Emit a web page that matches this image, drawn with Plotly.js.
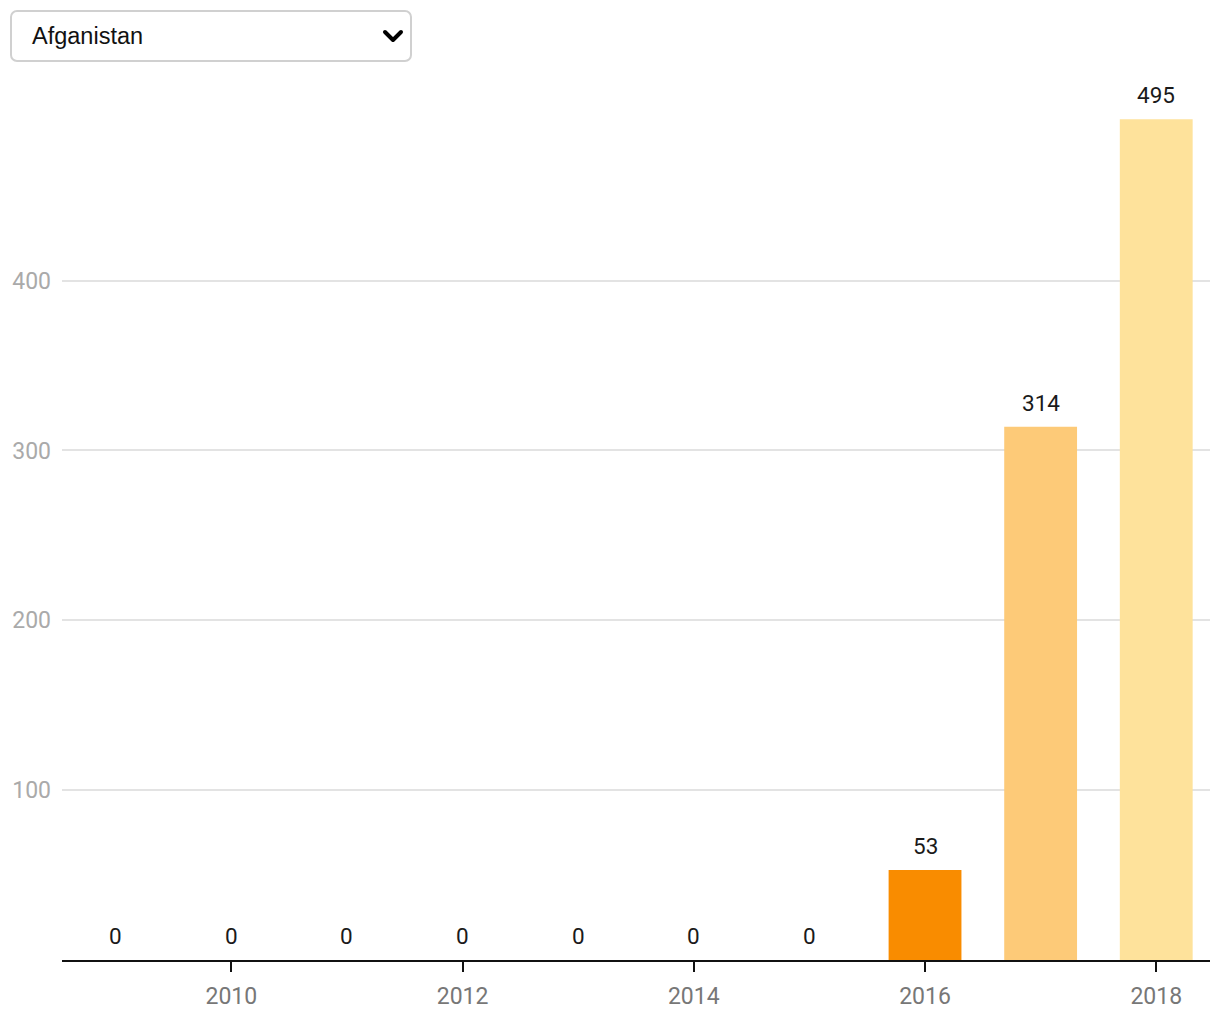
<!DOCTYPE html>
<html>
<head>
<meta charset="utf-8">
<script src="https://cdn.plot.ly/plotly-3.0.1.min.js"></script>
<style>
  html, body { margin: 0; padding: 0; background: #fff; }
  #wrap { position: relative; width: 1220px; height: 1020px; }
  #chart { position: absolute; left: 0; top: 0; width: 1220px; height: 1020px; }
  #sel {
    position: absolute; left: 10px; top: 10px; width: 402px; height: 52px;
    box-sizing: border-box; border: 2px solid #d0d0d0; border-radius: 7px;
    background: #fff; font-family: "Liberation Sans", Arial, sans-serif;
    font-size: 23.5px; color: #111; z-index: 5;
  }
  #sel .lbl { position: absolute; left: 20px; top: 11px; }
  #sel svg { position: absolute; right: 6px; top: 16px; }
</style>
</head>
<body>
<div id="wrap">
  <div id="chart"></div>
  <div id="sel"><span class="lbl">Afganistan</span>
    <svg width="22" height="16" viewBox="0 0 22 16"><polyline points="3,4 11,12 19,4" fill="none" stroke="#000" stroke-width="4" stroke-linecap="round" stroke-linejoin="round"/></svg>
  </div>
</div>
<script>
const years = [2009, 2010, 2011, 2012, 2013, 2014, 2015, 2016, 2017, 2018];
const values = [0, 0, 0, 0, 0, 0, 0, 53, 314, 495];
const barColors = ["#F98C00", "#F98C00", "#F98C00", "#F98C00", "#F98C00", "#F98C00", "#F98C00", "#F98C00", "#FDCA78", "#FEE29B"];
const yTicks = [100, 200, 300, 400];
const xTicks = [2010, 2012, 2014, 2016, 2018];

const trace = {
  type: 'bar',
  x: years,
  y: values,
  marker: { color: barColors },
  hoverinfo: 'x+y'
};

const labelAnnotations = years.map((yr, i) => ({
  x: yr, y: values[i], xref: 'x', yref: 'y',
  text: String(values[i]), showarrow: false,
  xanchor: 'center', yanchor: 'middle', yshift: 24,
  font: { family: 'Roboto', size: 22.5, color: '#1a1a1a' }
}));

const layout = {
  width: 1220, height: 1020,
  margin: { l: 62, r: 10, t: 70, b: 60 },
  paper_bgcolor: '#fff', plot_bgcolor: '#fff',
  bargap: 0.37,
  showlegend: false,
  font: { family: 'Roboto', size: 20, color: '#777' },
  annotations: labelAnnotations,
  xaxis: {
    range: [2008.535, 2018.465],
    tickvals: xTicks,
    ticktext: xTicks.map(String),
    ticks: 'outside', ticklen: 10, tickwidth: 2, tickcolor: '#111',
    showline: true, linecolor: '#111', linewidth: 2,
    showgrid: false, zeroline: false,
    ticklabelstandoff: 4,
    tickfont: { family: 'Roboto', size: 23, color: '#777' }
  },
  yaxis: {
    range: [0, 524],
    tickvals: yTicks,
    ticktext: yTicks.map(String),
    showgrid: true, gridcolor: '#e3e3e3', gridwidth: 2,
    zeroline: false, showline: false, ticks: '',
    ticklabelstandoff: 10,
    tickfont: { family: 'Roboto', size: 23, color: '#aaa' }
  }
};

Plotly.newPlot('chart', [trace], layout, { displayModeBar: false });
</script>
</body>
</html>
